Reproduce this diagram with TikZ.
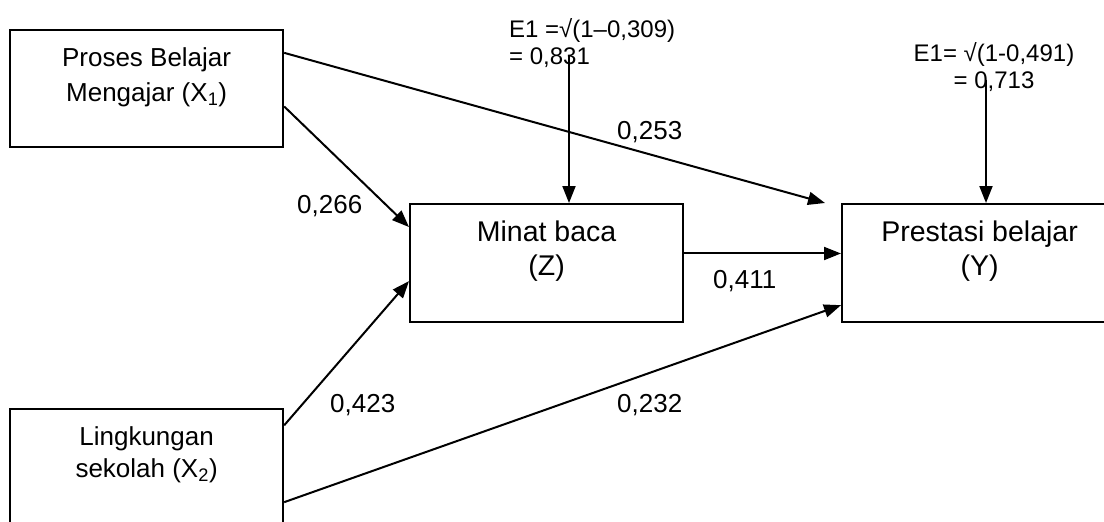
\documentclass[tikz,border=0pt]{standalone}
\usepackage{fontspec}
\setmainfont{Liberation Sans}
\usetikzlibrary{arrows.meta,calc}

\begin{document}
\begin{tikzpicture}
	[x=1pt, y=-1pt,
	 varbox/.style={rectangle, draw, line width=2.2pt, minimum width=273pt, minimum height=117pt, anchor=north west, inner sep=0pt},
	 caption/.style={anchor=north, align=center, inner sep=0pt},
	 effect/.style={line width=2pt, -{Triangle[length=17pt, width=13pt]}},
	 coef/.style={anchor=base west, inner sep=0pt, font=\fontsize{26}{30}\selectfont},
	 error/.style={anchor=north, inner sep=0pt, font=\fontsize{24}{27.5}\selectfont}]
	\useasboundingbox (0,0) rectangle (1104,522);

	% variables
	\node[varbox] (X1) at (9,29) {};
	\node[varbox] (X2) at (9,408) {};
	\node[varbox, minimum height=118pt] (Z) at (409,203) {};
	\node[varbox, minimum width=275pt, minimum height=118pt] (Y) at (841,203) {};

	\node[caption, font=\fontsize{26}{35.5}\selectfont] (X1t) at ([yshift=-18pt]X1.north) {Proses Belajar\\Mengajar (X\textsubscript{1})};
	\node[caption, font=\fontsize{26}{32}\selectfont] (X2t) at ([yshift=-18pt]X2.north) {Lingkungan\\sekolah (X\textsubscript{2})};
	\node[caption, font=\fontsize{28.5}{33.5}\selectfont] (Zt) at ([yshift=-18pt]Z.north) {Minat baca\\(Z)};
	\node[caption, font=\fontsize{28.5}{33.5}\selectfont] (Yt) at ([yshift=-18pt]Y.north) {Prestasi belajar\\(Y)};

	% paths
	\coordinate (toY) at ([xshift=-16pt]Y.north west);
	\draw[effect] ($(X1.north east)!0.2!(X1.south east)$) -- (toY);
	\draw[effect] ($(X1.north east)!0.65!(X1.south east)$) -- ($(Z.north west)!0.2!(Z.south west)$);
	\draw[effect] ($(X2.north east)!0.145!(X2.south east)$) -- ($(Z.north west)!0.65!(Z.south west)$);
	\draw[effect] ($(X2.north east)!0.79!(X2.south east)$) -- ($(Y.north west)!0.85!(Y.south west)$);
	\draw[effect] ($(Z.north east)!0.42!(Z.south east)$) coordinate (zy) -- (zy -| Y.west);

	\node[coef] (p1) at (617,139.5) {0,253};
	\node[coef] (p2) at (297,213) {0,266};
	\node[coef] (p3) at (713,288) {0,411};
	\node[coef] (p4) at (330,412) {0,423};
	\node[coef] (p5) at (617,412) {0,232};

	% residuals
	\node[error, anchor=north west, align=left] (E1) at (509,18) {E1 =√(1–0,309)\\= 0,831};
	\node[error, align=center] (E2) at (994,42) {E1= √(1-0,491)\\= 0,713};
	\coordinate (e1) at (569,56);
	\coordinate (e2) at (986,80);
	\draw[effect] (e1) -- (e1 |- Z.north);
	\draw[effect] (e2) -- (e2 |- Y.north);
\end{tikzpicture}
\end{document}
